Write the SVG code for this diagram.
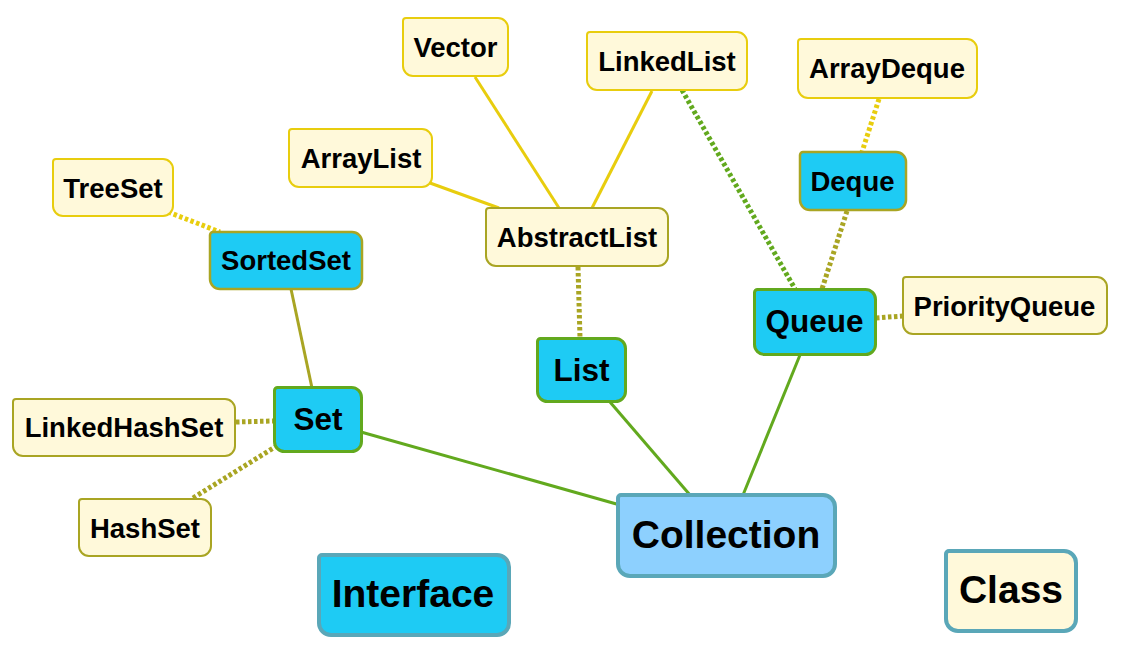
<svg xmlns="http://www.w3.org/2000/svg" width="1123" height="647" viewBox="0 0 1123 647">
<style>
text{font-family:"Liberation Sans",Arial,sans-serif;font-weight:bold;fill:#000;text-anchor:middle}
.t{font-size:27.5px}
.ti{font-size:31.5px}
.tl{font-size:39px}
.cls{fill:#FFF9DA;stroke-width:2}
.y{stroke:#E8CD0E}
.o{stroke:#A9A523}
.ifc{fill:#1ECBF4}
.g{stroke:#62A91E;stroke-width:3}
.ob{stroke:#A9A523;stroke-width:2.5}
.leg{stroke:#5AA7B8;stroke-width:4}
.ln{fill:none;stroke-width:3}
.dot{fill:none;stroke-width:5;stroke-dasharray:3.5 2.5}
</style>
<rect width="1123" height="647" fill="#fff"/>
<g id="connectors">
<line class="ln" stroke="#62A91E" x1="361" y1="432" x2="620" y2="505"/>
<line class="ln" stroke="#62A91E" x1="610" y1="402" x2="690" y2="495"/>
<line class="ln" stroke="#62A91E" x1="800" y1="355" x2="743" y2="495"/>
<line class="ln" stroke="#A9A523" x1="291" y1="289" x2="312" y2="388"/>
<line class="dot" stroke="#E8CD0E" x1="168" y1="212" x2="220" y2="232"/>
<line class="dot" stroke="#A9A523" x1="236" y1="422" x2="274" y2="421"/>
<line class="dot" stroke="#A9A523" x1="193" y1="498" x2="275" y2="447"/>
<line class="dot" stroke="#A9A523" x1="578" y1="267" x2="580" y2="338"/>
<line class="ln" stroke="#E8CD0E" x1="430" y1="183" x2="499" y2="208"/>
<line class="ln" stroke="#E8CD0E" x1="475" y1="77" x2="559" y2="208"/>
<line class="ln" stroke="#E8CD0E" x1="652" y1="91" x2="592" y2="208"/>
<line class="dot" stroke="#62A91E" x1="682" y1="90" x2="795" y2="289"/>
<line class="dot" stroke="#A9A523" x1="847" y1="211" x2="822" y2="289"/>
<line class="dot" stroke="#E8CD0E" x1="879" y1="99" x2="862" y2="152"/>
<line class="dot" stroke="#A9A523" x1="876" y1="318" x2="903" y2="316"/>
</g>
<g id="TreeSet"><path class="cls y" d="M56,159H163A10,10 0 0 1 173,169V206A10,10 0 0 1 163,216H63A10,10 0 0 1 53,206V162A3,3 0 0 1 56,159Z"/><text class="t" x="113" y="198">TreeSet</text></g>
<g id="SortedSet"><path class="ifc ob" d="M213,232H352A10,10 0 0 1 362,242V279A10,10 0 0 1 352,289H220A10,10 0 0 1 210,279V235A3,3 0 0 1 213,232Z"/><text class="t" x="286" y="270">SortedSet</text></g>
<g id="Set"><path class="ifc g" d="M277.5,387.5H351.5A10,10 0 0 1 361.5,397.5V441.5A10,10 0 0 1 351.5,451.5H284.5A10,10 0 0 1 274.5,441.5V390.5A3,3 0 0 1 277.5,387.5Z"/><text class="ti" x="318" y="430">Set</text></g>
<g id="LinkedHashSet"><path class="cls o" d="M16,399H225A10,10 0 0 1 235,409V446A10,10 0 0 1 225,456H23A10,10 0 0 1 13,446V402A3,3 0 0 1 16,399Z"/><text class="t" x="124" y="437">LinkedHashSet</text></g>
<g id="HashSet"><path class="cls o" d="M82,499H201A10,10 0 0 1 211,509V546A10,10 0 0 1 201,556H89A10,10 0 0 1 79,546V502A3,3 0 0 1 82,499Z"/><text class="t" x="145" y="538">HashSet</text></g>
<g id="ArrayList"><path class="cls y" d="M292,129H422A10,10 0 0 1 432,139V177A10,10 0 0 1 422,187H299A10,10 0 0 1 289,177V132A3,3 0 0 1 292,129Z"/><text class="t" x="361" y="168">ArrayList</text></g>
<g id="Vector"><path class="cls y" d="M406,18H498A10,10 0 0 1 508,28V66A10,10 0 0 1 498,76H413A10,10 0 0 1 403,66V21A3,3 0 0 1 406,18Z"/><text class="t" x="455.5" y="57">Vector</text></g>
<g id="LinkedList"><path class="cls y" d="M590,32H737A10,10 0 0 1 747,42V80A10,10 0 0 1 737,90H597A10,10 0 0 1 587,80V35A3,3 0 0 1 590,32Z"/><text class="t" x="667" y="71">LinkedList</text></g>
<g id="AbstractList"><path class="cls o" d="M489,208H658A10,10 0 0 1 668,218V256A10,10 0 0 1 658,266H496A10,10 0 0 1 486,256V211A3,3 0 0 1 489,208Z"/><text class="t" x="577" y="247">AbstractList</text></g>
<g id="List"><path class="ifc g" d="M540.5,338.5H615.5A10,10 0 0 1 625.5,348.5V391.5A10,10 0 0 1 615.5,401.5H547.5A10,10 0 0 1 537.5,391.5V341.5A3,3 0 0 1 540.5,338.5Z"/><text class="ti" x="581.5" y="381">List</text></g>
<g id="ArrayDeque"><path class="cls y" d="M801,39H967A10,10 0 0 1 977,49V88A10,10 0 0 1 967,98H808A10,10 0 0 1 798,88V42A3,3 0 0 1 801,39Z"/><text class="t" x="887" y="78">ArrayDeque</text></g>
<g id="Deque"><path class="ifc ob" d="M803,152H896A10,10 0 0 1 906,162V200A10,10 0 0 1 896,210H810A10,10 0 0 1 800,200V155A3,3 0 0 1 803,152Z"/><text class="t" x="852.5" y="191">Deque</text></g>
<g id="Queue"><path class="ifc g" d="M757.5,289.5H865.5A10,10 0 0 1 875.5,299.5V344.5A10,10 0 0 1 865.5,354.5H764.5A10,10 0 0 1 754.5,344.5V292.5A3,3 0 0 1 757.5,289.5Z"/><text class="ti" x="814.5" y="332">Queue</text></g>
<g id="PriorityQueue"><path class="cls o" d="M906,277H1097A10,10 0 0 1 1107,287V324A10,10 0 0 1 1097,334H913A10,10 0 0 1 903,324V280A3,3 0 0 1 906,277Z"/><text class="t" x="1004.5" y="316">PriorityQueue</text></g>
<g id="Collection"><path class="leg" fill="#8DD0FE" d="M621,495H823A12,12 0 0 1 835,507V564A12,12 0 0 1 823,576H630A12,12 0 0 1 618,564V498A3,3 0 0 1 621,495Z"/><text class="tl" x="726" y="548">Collection</text></g>
<g id="Interface"><path class="leg ifc" d="M322,555H497A12,12 0 0 1 509,567V623A12,12 0 0 1 497,635H331A12,12 0 0 1 319,623V558A3,3 0 0 1 322,555Z"/><text class="tl" x="413" y="607">Interface</text></g>
<g id="Class"><path class="leg" fill="#FFF9DA" d="M949,551H1064A12,12 0 0 1 1076,563V619A12,12 0 0 1 1064,631H958A12,12 0 0 1 946,619V554A3,3 0 0 1 949,551Z"/><text class="tl" x="1011" y="603">Class</text></g>
</svg>
